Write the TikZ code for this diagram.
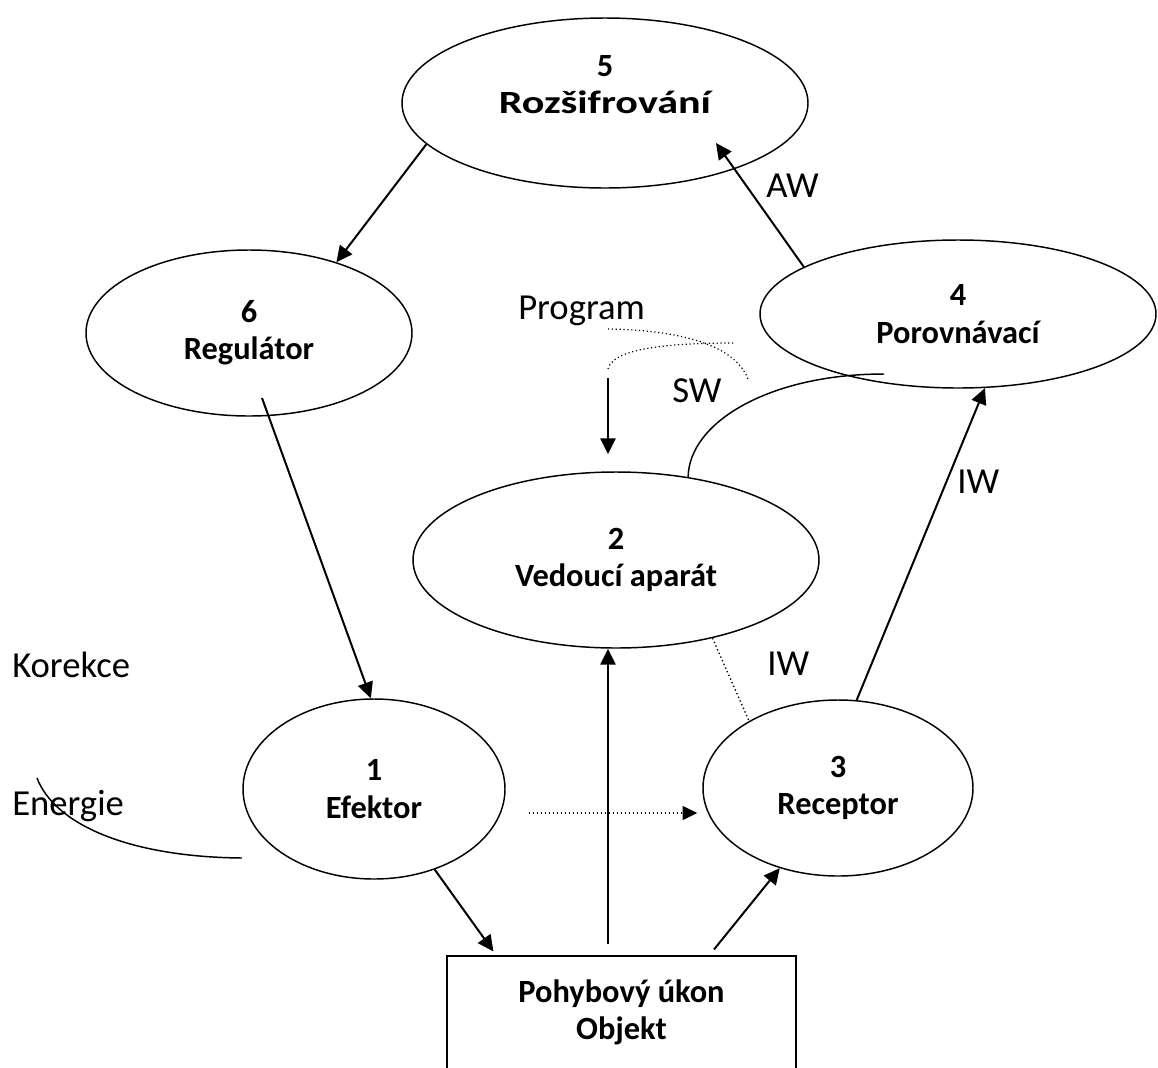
\documentclass[tikz,border=0pt]{standalone}
\usepackage{fontspec}
\setmainfont{Carlito}
\usepackage{graphicx}
\usepackage{tikz}
\usetikzlibrary{arrows.meta,positioning,shapes.geometric,calc}

\begin{document}
\begin{tikzpicture}[x=0.75pt, y=-0.75pt,
    blob/.style={ellipse, draw, line width=1.1pt, align=center, inner sep=0pt,
                 font=\bfseries\fontsize{24.3}{28}\selectfont},
    objbox/.style={rectangle, draw, line width=0.8pt, align=center, inner sep=0pt,
                 font=\bfseries\fontsize{24.3}{28}\selectfont},
    lbl/.style={anchor=base west, inner sep=0pt, font=\fontsize{27.5}{33}\selectfont},
    arr/.style={-{Triangle[length=12pt,width=11.5pt]}, line width=1.5pt},
    dots/.style={dotted, line width=1pt},
  ]
    \useasboundingbox (0,0) rectangle (1158,1068);

    % blocks
    \node[blob, minimum width=304.5pt, minimum height=127.5pt] (rozs) at (605,103) {5\\\scalebox{1.3}[1]{Rozšifrování}\\~};
    \node[blob, minimum width=244.5pt, minimum height=124.5pt] (regl) at (249,333) {6\\Regulátor};
    \node[blob, minimum width=297pt,   minimum height=111pt]   (poro) at (958,314) {4\\Porovnávací};
    \node[blob, minimum width=304.5pt, minimum height=132pt]   (vedo) at (616,560) {2\\Vedoucí aparát};
    \node[blob, minimum width=196.5pt, minimum height=135pt]   (efek) at (374,789) {1\\Efektor};
    \node[blob, minimum width=202.5pt, minimum height=132pt]   (rece) at (838,788) {3\\Receptor};
    \node[objbox, minimum width=261.75pt, minimum height=108pt] (obj) at (621.5,1028) {Pohybový úkon\\Objekt\\~};

    % labels
    \node[lbl] (kor) at (12,677)  {Korekce};
    \node[lbl] (ene) at (12,815)  {Energie};
    \node[lbl] (prg) at (518,319) {Program};
    \node[lbl] (sw)  at (672,402) {SW};
    \node[lbl] (aw)  at (766,197) {AW};
    \node[lbl] (iwr) at (957,493) {IW};
    \node[lbl] (iwm) at (767,675) {IW};

    % main loop
    \draw[arr] (rozs.193) -- (regl.39);
    \draw[arr] (poro.163) -- ($(rozs)+(111,40)$);
    \draw[arr] ($(regl)+(13,65)$) -- (efek.92);
    \draw[arr] (efek.-53) -- ($(obj.north west)+(47,-4)$);
    \coordinate (up) at ($(obj.north)+(-13.5,-11)$);
    \draw[arr] (up) -- (up |- vedo.south);
    \draw[arr] ($(obj.north)+(92.5,-6)$) -- (rece.234);
    \draw[arr] (rece.78) -- (poro.-70);

    % dotted links
    \coordinate (dl) at ($(efek.east)+(23,24)$);
    \draw[dots, -{Triangle[length=11pt,width=10.5pt]}, shorten >=3.75pt] (dl) -- (dl -| rece.west);
    \draw[dots] (vedo.-39) -- (rece.143);

    % program input
    \coordinate (pin) at (608,378);
    \draw[arr] (pin) -- ($(vedo.north)+(-8,-17)$);
    \coordinate (sa) at (608,369);
    \coordinate (sb) at (735,343);
    \draw[dots, line width=0.9pt] (sa) .. controls (612,352) and (650,343) .. (sb);
    \coordinate (sc) at (608,329);
    \coordinate (sd) at (748,379);
    \draw[dots, line width=0.9pt] (sc) .. controls (680,330) and (735,345) .. (sd);

    % free curves
    \coordinate (cv) at (884,374);
    \draw[line width=1.1pt] (vedo.49) .. controls (689,422) and (770,374) .. (cv);
    \coordinate (ea) at (37,778);
    \coordinate (eb) at (242,858);
    \draw[line width=1.1pt] (ea) .. controls (55,825) and (130,857) .. (eb);
\end{tikzpicture}
\end{document}
